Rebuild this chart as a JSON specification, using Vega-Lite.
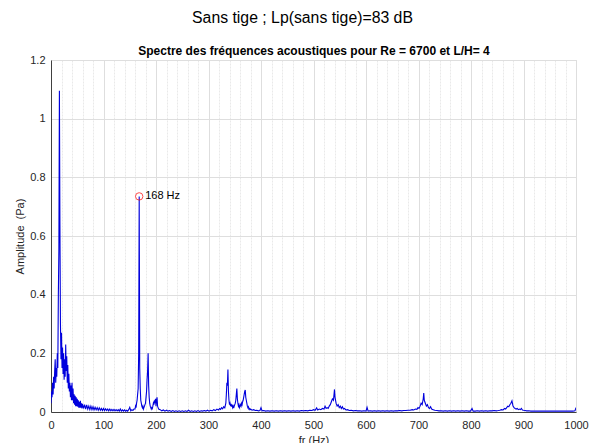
{
  "$schema": "https://vega.github.io/schema/vega-lite/v6.json",
  "autosize": "none",
  "width": 525,
  "height": 352,
  "padding": {"left": 51, "top": 60, "right": 14, "bottom": 31},
  "background": "white",
  "title": {
    "text": "Sans tige ; Lp(sans tige)=83 dB",
    "anchor": "middle",
    "font": "Liberation Sans",
    "fontSize": 15.8,
    "fontWeight": "normal",
    "color": "#000000",
    "dx": -11,
    "offset": 17
  },
  "config": {
    "view": {"stroke": "#d4d4d4", "strokeWidth": 1},
    "axis": {
      "labelFont": "Liberation Sans",
      "labelFontSize": 11,
      "labelColor": "#262626",
      "titleFont": "Liberation Sans",
      "titleFontSize": 11,
      "titleFontWeight": "normal",
      "titleColor": "#262626",
      "domainColor": "#404040",
      "ticks": false
    }
  },
  "resolve": {"axis": {"x": "independent"}},
  "datasets": {
    "spectre": [
      {"f":0,"a":0.03},{"f":1,"a":0.07},{"f":2,"a":0.05},{"f":3,"a":0.1},{"f":4,"a":0.06},{"f":5,"a":0.12},{"f":6,"a":0.08},{"f":7,"a":0.14},{"f":8,"a":0.18},{"f":9,"a":0.1},
      {"f":10,"a":0.15},{"f":11,"a":0.12},{"f":12,"a":0.2},{"f":13,"a":0.15},{"f":14,"a":0.4},{"f":15,"a":0.55},{"f":16,"a":1.095},{"f":17,"a":0.64},{"f":18,"a":0.3},{"f":19,"a":0.18},
      {"f":20,"a":0.27},{"f":21,"a":0.15},{"f":22,"a":0.22},{"f":23,"a":0.13},{"f":24,"a":0.2},{"f":25,"a":0.11},{"f":26,"a":0.18},{"f":27,"a":0.12},{"f":28,"a":0.23},{"f":29,"a":0.14},
      {"f":30,"a":0.19},{"f":31,"a":0.1},{"f":32,"a":0.16},{"f":33,"a":0.08},{"f":34,"a":0.13},{"f":35,"a":0.07},{"f":36,"a":0.1},{"f":37,"a":0.05},{"f":38,"a":0.09},{"f":39,"a":0.04},
      {"f":40,"a":0.1},{"f":41,"a":0.04},{"f":42,"a":0.08},{"f":43,"a":0.03},{"f":44,"a":0.06},{"f":45,"a":0.025},{"f":46,"a":0.055},{"f":47,"a":0.02},{"f":48,"a":0.05},{"f":49,"a":0.02},
      {"f":50,"a":0.045},{"f":51,"a":0.018},{"f":52,"a":0.04},{"f":53,"a":0.015},{"f":54,"a":0.035},{"f":55,"a":0.015},{"f":56,"a":0.038},{"f":57,"a":0.015},{"f":58,"a":0.03},{"f":59,"a":0.012},
      {"f":60,"a":0.028},{"f":62,"a":0.012},{"f":64,"a":0.025},{"f":66,"a":0.01},{"f":68,"a":0.024},{"f":70,"a":0.01},{"f":72,"a":0.02},{"f":74,"a":0.008},{"f":76,"a":0.02},{"f":78,"a":0.008},
      {"f":80,"a":0.018},{"f":82,"a":0.007},{"f":84,"a":0.016},{"f":86,"a":0.007},{"f":88,"a":0.015},{"f":90,"a":0.006},{"f":92,"a":0.014},{"f":94,"a":0.006},{"f":96,"a":0.012},{"f":98,"a":0.005},
      {"f":100,"a":0.012},{"f":102,"a":0.005},{"f":104,"a":0.011},{"f":106,"a":0.005},{"f":108,"a":0.01},{"f":110,"a":0.004},{"f":112,"a":0.01},{"f":114,"a":0.004},{"f":116,"a":0.009},{"f":118,"a":0.004},
      {"f":120,"a":0.009},{"f":122,"a":0.004},{"f":124,"a":0.008},{"f":126,"a":0.004},{"f":128,"a":0.008},{"f":130,"a":0.003},{"f":132,"a":0.01},{"f":134,"a":0.003},{"f":136,"a":0.007},{"f":138,"a":0.003},
      {"f":140,"a":0.007},{"f":142,"a":0.003},{"f":144,"a":0.006},{"f":146,"a":0.003},{"f":148,"a":0.008},{"f":150,"a":0.016},{"f":152,"a":0.004},{"f":154,"a":0.008},{"f":156,"a":0.005},{"f":158,"a":0.01},
      {"f":160,"a":0.01},{"f":161,"a":0.02},{"f":162,"a":0.015},{"f":163,"a":0.03},{"f":164,"a":0.04},{"f":165,"a":0.06},{"f":166,"a":0.08},{"f":167,"a":0.2},{"f":168,"a":0.735},{"f":169,"a":0.15},
      {"f":170,"a":0.08},{"f":171,"a":0.04},{"f":172,"a":0.03},{"f":173,"a":0.02},{"f":174,"a":0.015},{"f":175,"a":0.02},{"f":176,"a":0.01},{"f":177,"a":0.015},{"f":178,"a":0.02},{"f":179,"a":0.025},
      {"f":180,"a":0.03},{"f":181,"a":0.05},{"f":182,"a":0.07},{"f":183,"a":0.11},{"f":184,"a":0.14},{"f":185,"a":0.2},{"f":186,"a":0.09},{"f":187,"a":0.05},{"f":188,"a":0.03},{"f":189,"a":0.02},
      {"f":190,"a":0.015},{"f":191,"a":0.01},{"f":192,"a":0.015},{"f":193,"a":0.012},{"f":194,"a":0.02},{"f":195,"a":0.03},{"f":196,"a":0.025},{"f":197,"a":0.04},{"f":198,"a":0.03},{"f":199,"a":0.045},
      {"f":200,"a":0.02},{"f":201,"a":0.04},{"f":202,"a":0.05},{"f":203,"a":0.02},{"f":204,"a":0.015},{"f":205,"a":0.01},
      {"f":208,"a":0.008},{"f":211,"a":0.004},{"f":214,"a":0.007},{"f":217,"a":0.003},{"f":220,"a":0.006},{"f":223,"a":0.003},{"f":226,"a":0.005},{"f":229,"a":0.002},{"f":232,"a":0.005},{"f":235,"a":0.002},
      {"f":238,"a":0.004},{"f":241,"a":0.002},{"f":244,"a":0.004},{"f":247,"a":0.002},{"f":250,"a":0.004},{"f":253,"a":0.002},{"f":256,"a":0.004},{"f":259,"a":0.002},{"f":262,"a":0.006},{"f":265,"a":0.002},
      {"f":268,"a":0.004},{"f":271,"a":0.002},{"f":274,"a":0.004},{"f":277,"a":0.002},{"f":280,"a":0.005},{"f":283,"a":0.002},{"f":286,"a":0.004},{"f":289,"a":0.003},{"f":292,"a":0.005},{"f":295,"a":0.003},
      {"f":298,"a":0.006},{"f":301,"a":0.003},{"f":304,"a":0.006},{"f":307,"a":0.004},{"f":310,"a":0.008},{"f":313,"a":0.005},{"f":316,"a":0.01},{"f":319,"a":0.007},
      {"f":321,"a":0.012},{"f":323,"a":0.009},{"f":325,"a":0.015},{"f":327,"a":0.011},{"f":329,"a":0.018},{"f":331,"a":0.014},{"f":333,"a":0.03},{"f":334,"a":0.06},{"f":335,"a":0.1},{"f":336,"a":0.09},
      {"f":337,"a":0.145},{"f":338,"a":0.07},{"f":339,"a":0.04},{"f":340,"a":0.025},{"f":341,"a":0.03},{"f":342,"a":0.02},{"f":343,"a":0.028},{"f":344,"a":0.018},{"f":345,"a":0.025},{"f":346,"a":0.015},
      {"f":347,"a":0.02},{"f":348,"a":0.013},{"f":349,"a":0.02},{"f":350,"a":0.025},{"f":351,"a":0.03},{"f":352,"a":0.04},{"f":353,"a":0.06},{"f":354,"a":0.08},{"f":355,"a":0.045},{"f":356,"a":0.03},
      {"f":357,"a":0.02},{"f":358,"a":0.025},{"f":359,"a":0.015},{"f":360,"a":0.02},{"f":361,"a":0.025},{"f":362,"a":0.02},{"f":363,"a":0.03},{"f":364,"a":0.025},{"f":365,"a":0.035},{"f":366,"a":0.04},
      {"f":367,"a":0.05},{"f":368,"a":0.06},{"f":369,"a":0.07},{"f":370,"a":0.075},{"f":371,"a":0.05},{"f":372,"a":0.04},{"f":373,"a":0.03},{"f":374,"a":0.02},{"f":375,"a":0.015},{"f":376,"a":0.018},
      {"f":377,"a":0.01},{"f":378,"a":0.012},{"f":379,"a":0.008},{"f":380,"a":0.01},
      {"f":383,"a":0.006},{"f":386,"a":0.008},{"f":389,"a":0.005},{"f":392,"a":0.006},{"f":395,"a":0.004},{"f":398,"a":0.005},{"f":400,"a":0.015},{"f":402,"a":0.004},{"f":405,"a":0.005},{"f":409,"a":0.003},
      {"f":413,"a":0.004},{"f":417,"a":0.003},{"f":421,"a":0.004},{"f":425,"a":0.003},{"f":429,"a":0.004},{"f":433,"a":0.003},{"f":437,"a":0.004},{"f":441,"a":0.003},{"f":445,"a":0.004},{"f":449,"a":0.003},
      {"f":453,"a":0.004},{"f":457,"a":0.003},{"f":461,"a":0.004},{"f":465,"a":0.003},{"f":469,"a":0.004},{"f":473,"a":0.003},{"f":477,"a":0.005},{"f":481,"a":0.004},{"f":485,"a":0.005},{"f":489,"a":0.004},
      {"f":493,"a":0.006},{"f":497,"a":0.005},{"f":500,"a":0.008},{"f":503,"a":0.006},{"f":506,"a":0.014},{"f":508,"a":0.007},{"f":511,"a":0.01},{"f":514,"a":0.008},{"f":517,"a":0.012},{"f":520,"a":0.01},
      {"f":522,"a":0.02},{"f":524,"a":0.012},{"f":526,"a":0.015},{"f":528,"a":0.012},{"f":530,"a":0.02},{"f":532,"a":0.025},{"f":534,"a":0.035},{"f":536,"a":0.045},{"f":538,"a":0.04},{"f":540,"a":0.077},
      {"f":541,"a":0.05},{"f":543,"a":0.03},{"f":545,"a":0.02},{"f":547,"a":0.025},{"f":549,"a":0.015},{"f":551,"a":0.02},{"f":553,"a":0.012},{"f":555,"a":0.018},{"f":557,"a":0.01},{"f":559,"a":0.012},
      {"f":562,"a":0.007},{"f":565,"a":0.008},{"f":568,"a":0.005},{"f":572,"a":0.006},{"f":576,"a":0.004},{"f":580,"a":0.005},{"f":584,"a":0.004},{"f":588,"a":0.004},{"f":592,"a":0.003},{"f":596,"a":0.004},
      {"f":600,"a":0.003},{"f":602,"a":0.016},{"f":604,"a":0.003},{"f":608,"a":0.004},{"f":612,"a":0.003},{"f":616,"a":0.004},{"f":620,"a":0.003},{"f":624,"a":0.004},{"f":628,"a":0.003},{"f":632,"a":0.004},
      {"f":636,"a":0.003},{"f":640,"a":0.004},{"f":644,"a":0.003},{"f":648,"a":0.004},{"f":652,"a":0.003},{"f":656,"a":0.004},{"f":660,"a":0.004},{"f":664,"a":0.005},{"f":668,"a":0.004},{"f":672,"a":0.005},
      {"f":676,"a":0.005},{"f":680,"a":0.006},{"f":684,"a":0.006},{"f":688,"a":0.008},{"f":691,"a":0.007},{"f":694,"a":0.01},{"f":697,"a":0.009},{"f":699,"a":0.015},{"f":701,"a":0.012},{"f":703,"a":0.02},
      {"f":705,"a":0.03},{"f":707,"a":0.025},{"f":709,"a":0.045},{"f":710,"a":0.065},{"f":711,"a":0.04},{"f":713,"a":0.03},{"f":715,"a":0.02},{"f":717,"a":0.025},{"f":719,"a":0.015},{"f":721,"a":0.012},
      {"f":723,"a":0.018},{"f":725,"a":0.01},{"f":728,"a":0.008},{"f":731,"a":0.006},{"f":735,"a":0.005},{"f":739,"a":0.004},{"f":743,"a":0.004},{"f":747,"a":0.003},{"f":751,"a":0.004},{"f":755,"a":0.003},
      {"f":759,"a":0.004},{"f":763,"a":0.003},{"f":767,"a":0.004},{"f":771,"a":0.003},{"f":775,"a":0.004},{"f":779,"a":0.003},{"f":783,"a":0.004},{"f":787,"a":0.003},{"f":791,"a":0.004},{"f":795,"a":0.003},
      {"f":799,"a":0.003},{"f":802,"a":0.012},{"f":804,"a":0.003},{"f":808,"a":0.003},{"f":812,"a":0.004},{"f":816,"a":0.003},{"f":820,"a":0.004},{"f":824,"a":0.003},{"f":828,"a":0.004},{"f":832,"a":0.003},
      {"f":836,"a":0.004},{"f":840,"a":0.004},{"f":844,"a":0.005},{"f":848,"a":0.004},{"f":852,"a":0.005},{"f":855,"a":0.006},{"f":858,"a":0.008},{"f":861,"a":0.007},{"f":864,"a":0.012},{"f":866,"a":0.01},
      {"f":868,"a":0.015},{"f":870,"a":0.02},{"f":872,"a":0.018},{"f":874,"a":0.025},{"f":876,"a":0.03},{"f":878,"a":0.038},{"f":880,"a":0.02},{"f":882,"a":0.015},{"f":884,"a":0.012},{"f":886,"a":0.01},
      {"f":888,"a":0.012},{"f":890,"a":0.008},{"f":892,"a":0.01},{"f":894,"a":0.008},{"f":896,"a":0.012},{"f":898,"a":0.007},{"f":900,"a":0.006},{"f":903,"a":0.005},{"f":906,"a":0.004},{"f":910,"a":0.004},
      {"f":914,"a":0.003},{"f":918,"a":0.003},{"f":922,"a":0.003},{"f":926,"a":0.003},{"f":930,"a":0.003},{"f":934,"a":0.003},{"f":938,"a":0.003},{"f":942,"a":0.003},{"f":946,"a":0.003},{"f":950,"a":0.003},
      {"f":954,"a":0.003},{"f":958,"a":0.003},{"f":962,"a":0.003},{"f":966,"a":0.003},{"f":970,"a":0.003},{"f":974,"a":0.003},{"f":978,"a":0.003},{"f":982,"a":0.003},{"f":986,"a":0.003},{"f":990,"a":0.003},
      {"f":994,"a":0.003},{"f":998,"a":0.004},{"f":1000,"a":0.015}
    ],
    "pic": [{"f":168,"a":0.735,"label":"168 Hz"}]
  },
  "layer": [
    {
      "data": {"name": "spectre"},
      "mark": {"type": "line", "color": "#0000dd", "strokeWidth": 1.1, "clip": true},
      "encoding": {
        "x": {
          "field": "f", "type": "quantitative",
          "scale": {"domain": [0, 1000], "nice": false, "zero": false},
          "axis": {
            "orient": "bottom",
            "title": "fr (Hz)",
            "values": [0,20,40,60,80,100,120,140,160,180,200,220,240,260,280,300,320,340,360,380,400,420,440,460,480,500,520,540,560,580,600,620,640,660,680,700,720,740,760,780,800,820,840,860,880,900,920,940,960,980,1000],
            "labelExpr": "datum.value % 100 === 0 ? format(datum.value, 'd') : ''",
            "labelOverlap": false,
            "labelBound": false,
            "labelFlush": false,
            "labelPadding": 7,
            "titlePadding": 4,
            "grid": true,
            "gridColor": {"condition": {"test": "datum.value % 100 === 0", "value": "#dedede"}, "value": "#e9e9e9"},
            "gridDash": {"condition": {"test": "datum.value % 100 === 0", "value": []}, "value": [2, 1]}
          }
        },
        "y": {
          "field": "a", "type": "quantitative",
          "scale": {"domain": [0, 1.2], "nice": false},
          "axis": {
            "title": "Amplitude\u00a0 (Pa)",
            "values": [0,0.05,0.1,0.15,0.2,0.25,0.3,0.35,0.4,0.45,0.5,0.55,0.6,0.65,0.7,0.75,0.8,0.85,0.9,0.95,1,1.05,1.1,1.15,1.2],
            "labelExpr": "abs(datum.value*5 - round(datum.value*5)) < 0.001 ? format(datum.value, '.1~f') : ''",
            "labelOverlap": false,
            "labelBound": false,
            "labelPadding": 6,
            "titlePadding": 4,
            "grid": true,
            "gridColor": {"condition": {"test": "abs(datum.value*5 - round(datum.value*5)) < 0.001", "value": "#dedede"}, "value": "#e9e9e9"},
            "gridDash": {"condition": {"test": "abs(datum.value*5 - round(datum.value*5)) < 0.001", "value": []}, "value": [2, 1]}
          }
        }
      }
    },
    {
      "data": {"name": "pic"},
      "mark": {"type": "point", "shape": "circle", "filled": false, "stroke": "#ff0000", "strokeWidth": 1, "size": 55},
      "encoding": {
        "x": {
          "field": "f", "type": "quantitative",
          "axis": {
            "orient": "top",
            "title": "Spectre des fréquences acoustiques pour Re = 6700 et L/H= 4",
            "titleFontWeight": "bold",
            "titleFontSize": 12,
            "titleColor": "#000000",
            "titlePadding": 3,
            "labels": false,
            "ticks": false,
            "domain": false,
            "grid": false
          }
        },
        "y": {"field": "a", "type": "quantitative"}
      }
    },
    {
      "data": {"name": "pic"},
      "mark": {"type": "text", "align": "left", "baseline": "middle", "dx": 6, "font": "Liberation Sans", "fontSize": 11, "color": "#000000"},
      "encoding": {
        "x": {"field": "f", "type": "quantitative", "axis": null},
        "y": {"field": "a", "type": "quantitative"},
        "text": {"field": "label"}
      }
    }
  ]
}
